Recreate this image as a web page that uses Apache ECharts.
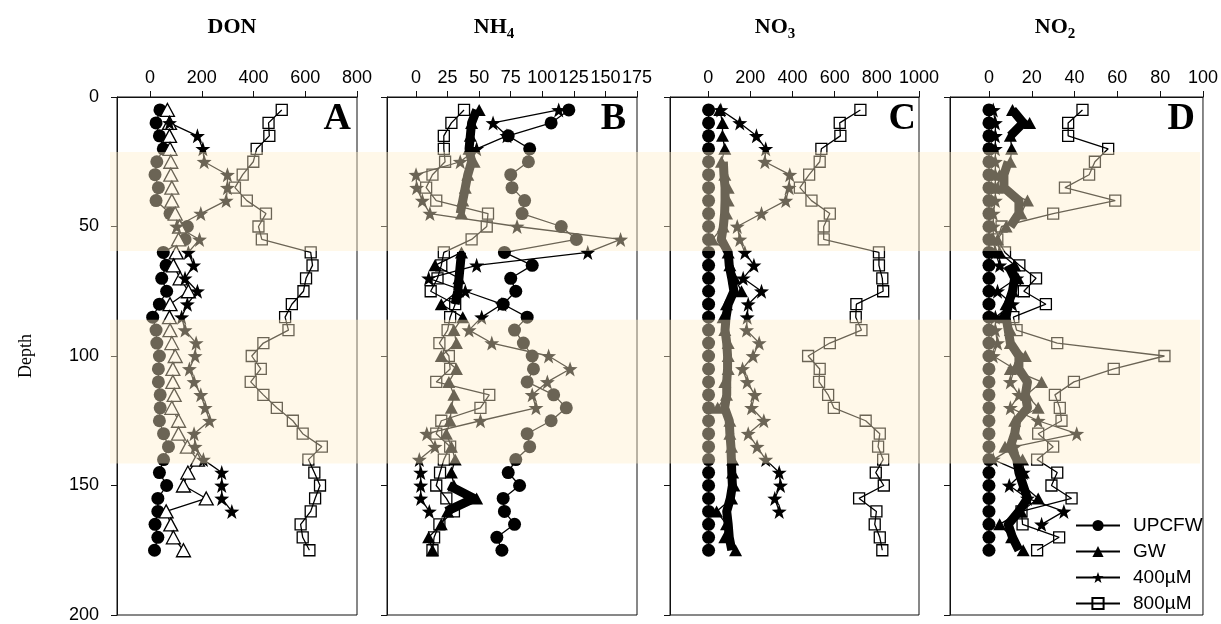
<!DOCTYPE html>
<html><head><meta charset="utf-8">
<script src="https://cdn.jsdelivr.net/npm/echarts@6/dist/echarts.min.js"></script>
<style>html,body{margin:0;padding:0;background:#fff}#c{width:1221px;height:624px}</style>
</head><body><div id="c"></div>
<script>
const depth = [5,10,15,20,25,30,35,40,45,50,55,60,65,70,75,80,85,90,95,100,105,110,115,120,125,130,135,140,145,150,155,160,165,170,175];

const donUPCFW = [38,23,36,51,26,19,32,23,77,144,135,51,62,45,64,36,10,23,26,36,32,32,39,39,36,52,71,52,36,64,30,30,19,30,17];
const donGW = [67,75,75,77,80,80,84,84,97,114,110,101,90,116,148,77,75,77,84,97,88,88,93,84,110,110,144,183,146,129,217,62,80,90,129];
const donGWFill = [];
const don400 = [null,75,183,204,209,299,299,294,196,103,191,148,168,135,183,144,122,135,178,174,152,170,196,213,230,170,174,206,277,277,277,316,null,null,null];
const don800 = [509,458,461,412,399,358,328,374,448,419,432,621,628,603,593,548,522,535,438,393,428,389,438,490,552,590,664,612,635,657,638,621,582,590,616];

const nh4UPCFW = [121,107,73,90,89,75,76,86,84,115,127,70,92,75,79,69,88,78,85,92,93,88,109,119,107,88,90,79,73,82,69,70,78,64,68];
const nh4GW = [50,44,43,42,46,41,39,37,36,null,null,36,15,34,33,20,37,30,32,20,32,26,30,28,27,24,28,31,28,30,48,25,20,10,13];
const nh4GWFill = [48,44,43,42,44,41,39,37,35,null,null,36,35,34,33,31,null,null,null,null,null,null,null,null,null,null,null,null,null,26,46,24,null,null,null];
const nh4400 = [113,61,72,48,35,0,0.5,5,11,80,162,136,48,10,39,68,52,42,60,105,122,104,92,95,51,8.5,15,2.6,3.7,3.7,3.7,10.5,null,null,null];
const nh4800 = [38,28,22,22,23,13,8,16,57,56,44,22,20,17,11.6,31,27,25,18.5,26,27,16,58,51,20,16,27,22,19,16,24,30,18.5,14.3,13];

const no3UPCFW = [2,2,2,2,2,2,2,2,2,2,2,2,2,2,2,2,2,2,2,2,2,2,2,2,2,2,2,2,2,2,2,2,2,2,2];
const no3GW = [55,68,68,79,63,79,95,95,87,71,20,95,103,126,158,87,71,79,95,95,95,79,87,45,103,103,111,116,116,122,111,40,87,79,130];
const no3GWFill = [null,null,null,null,72,75,80,80,78,72,62,95,100,112,122,95,85,80,88,92,92,88,88,78,100,103,108,110,112,115,105,88,95,100,112];
const no3400 = [60,150,229,273,269,387,384,368,253,138,150,174,217,166,253,190,185,182,242,213,163,185,221,206,264,190,232,273,337,343,316,337,null,null,null];
const no3800 = [722,624,627,537,529,479,435,490,577,548,548,810,810,826,830,703,700,727,577,474,529,526,569,596,747,814,806,830,795,833,716,798,790,814,826];

const no2UPCFW = [0,0,0,0,0,0,0,0,0,0,0,0,0,0,0,0,0,0,0,0,0,0,0,0,0,0,0,0,0,0,0,0,0,0,0];
const no2GW = [11,19,10,10.6,10,5,4,18,15,8,4,5,12,13.5,11,8,6,10,10,17,10,24.6,17.6,23,12,12.6,7.5,15.7,16,16,23,15,5,10.6,16];
const no2GWFill = [11,16,10,null,9,7,7,14,14,10,null,null,9,12,11,9,8,9,10,14,14,18,17,18,13,12,10,13,14,16,18,14,9,11,14];
const no2400 = [2,3,3,3,3,3,3,3,2,2,2,3,5,13,4,11,3,3,4,2,12,10,14,10,23,41,12,2,16,9.5,18,35,24.6,null,null];
const no2800 = [43.7,37,37,55.7,49.5,46.8,35.5,59,30,5.9,3.9,7.5,14.2,22,16.3,26.6,11.4,12.9,31.9,82,58.3,39.7,30.8,33.1,33.9,23,30,22.5,31.9,29.2,38.6,15.2,15.7,32.8,22.5];

const ticksDON = [0,200,400,600,800];
const ticksNH4 = [0,25,50,75,100,125,150,175];
const ticksNO3 = [0,200,400,600,800,1000];
const ticksNO2 = [0,20,40,60,80,100];
const depthTicks = [0,50,100,150,200];
const bandTop = [21.2, 86];
const bandBottom = [59.5, 141.5];
const seriesNames = ['UPCFW','GW','400µM','800µM'];

const panels = [
  {letter:'A', left:117, width:240, min:-128, max:800, ticks:ticksDON, up:donUPCFW, gw:donGW, gwFill:donGWFill, s4:don400, s8:don800, hollowTri:true},
  {letter:'B', left:387, width:250, min:-23, max:175, ticks:ticksNH4, up:nh4UPCFW, gw:nh4GW, gwFill:nh4GWFill, s4:nh4400, s8:nh4800, hollowTri:false},
  {letter:'C', left:670, width:249, min:-181, max:1000, ticks:ticksNO3, up:no3UPCFW, gw:no3GW, gwFill:no3GWFill, s4:no3400, s8:no3800, hollowTri:false},
  {letter:'D', left:950, width:253, min:-18.2, max:100, ticks:ticksNO2, up:no2UPCFW, gw:no2GW, gwFill:no2GWFill, s4:no2400, s8:no2800, hollowTri:false}
];

const TOP = 97, H = 518;
const STAR = 'path://M0,-10 L2.35,-3.24 L9.51,-3.09 L3.8,1.24 L5.88,8.09 L0,4 L-5.88,8.09 L-3.8,1.24 L-9.51,-3.09 L-2.35,-3.24 Z';
const FONT = 'Liberation Sans';

function pairs(vals){ return vals.map((v,i)=>[v==null?'-':v, depth[i]]); }

const grid = [], xAxis = [], yAxis = [];
panels.forEach((p, gi) => {
  grid.push({left:p.left, top:TOP, width:p.width, height:H, show:true, borderColor:'#111', borderWidth:1, backgroundColor:'transparent'});
  xAxis.push({type:'value', gridIndex:gi, position:'top', min:p.min, max:p.max,
    axisLine:{show:true, onZero:false, lineStyle:{color:'#111', width:1}},
    axisTick:{show:true, inside:false, length:6, customValues:p.ticks, lineStyle:{color:'#111'}},
    axisLabel:{show:true, customValues:p.ticks, margin:10, fontSize:18, color:'#000', fontFamily:FONT, formatter:(v)=>String(v)},
    splitLine:{show:false}});
  yAxis.push({type:'value', gridIndex:gi, inverse:true, min:0, max:200, interval:50,
    axisLine:{show:true, onZero:false, lineStyle:{color:'#111', width:1}},
    axisTick:{show:true, inside:false, length:6, lineStyle:{color:'#111'}},
    axisLabel:{show:gi===0, margin:18, fontSize:18, color:'#000', fontFamily:FONT},
    splitLine:{show:false}});
});
// overlay grid for shaded depth bands
grid.push({left:110, top:TOP, width:1090, height:H, show:false});
xAxis.push({type:'value', gridIndex:4, min:0, max:1, show:false});
yAxis.push({type:'value', gridIndex:4, min:0, max:200, inverse:true, show:false});

function mk(p, gi, kind){
  const base = {type:'line', xAxisIndex:gi, yAxisIndex:gi, showAllSymbol:true, connectNulls:false, z:2, animation:false,
    lineStyle:{color:'#000', width:1.3}};
  if (kind==='up') return Object.assign(base, {name:'UPCFW', data:pairs(p.up), symbol:'circle', symbolSize:13,
    itemStyle:{color:'#000'}});
  if (kind==='gw') return Object.assign(base, {name:'GW', data:pairs(p.gw), symbol:'triangle', symbolSize: p.hollowTri ? [14,13] : [13,12],
    itemStyle: p.hollowTri ? {color:'#fff', borderColor:'#000', borderWidth:1.3} : {color:'#000'}});
  if (kind==='fill') return Object.assign(base, {name:'GW fill', data:pairs(p.gwFill), symbol:'none', showSymbol:false,
    lineStyle:{color:'#000', width:9, cap:'butt', join:'round'}});
  if (kind==='s4') return Object.assign(base, {name:'400µM', data:pairs(p.s4), symbol:STAR, symbolSize:15,
    itemStyle:{color:'#000'}});
  if (kind==='s8') return Object.assign(base, {name:'800µM', data:pairs(p.s8), symbol:'rect', symbolSize:11,
    itemStyle:{color:'none', borderColor:'#000', borderWidth:1.3}});
}

const series = [];
// panel D first so the legend takes its styles
[3,0,1,2].forEach(gi => {
  const p = panels[gi];
  series.push(mk(p, gi, 'up'));
  series.push(mk(p, gi, 'gw'));
  if (p.gwFill.length) series.push(mk(p, gi, 'fill'));
  series.push(mk(p, gi, 's4'));
  series.push(mk(p, gi, 's8'));
});
series.push({type:'custom', xAxisIndex:4, yAxisIndex:4, z:10, silent:true, animation:false,
  data: bandTop.map((t,i)=>[t, bandBottom[i]]),
  renderItem:(params, api)=>{
    const p0 = api.coord([0, api.value(0)]);
    const p1 = api.coord([1, api.value(1)]);
    return {type:'rect', shape:{x:p0[0], y:p0[1], width:p1[0]-p0[0], height:p1[1]-p0[1]},
      style:{fill:'rgba(255,238,202,0.42)'}};
  }});

const serif = '"Liberation Serif","Times New Roman",serif';
const titleDefs = [
  {x:232, main:'DON', sub:''},
  {x:494, main:'NH', sub:'4'},
  {x:775, main:'NO', sub:'3'},
  {x:1055, main:'NO', sub:'2'}
];
const graphic = [];
titleDefs.forEach(t => {
  graphic.push({type:'text', x:t.x, y:27, style:{
    text: t.sub ? '{m|'+t.main+'}{s|'+t.sub+'}' : '{m|'+t.main+'}',
    align:'center', verticalAlign:'middle',
    rich:{m:{fontFamily:serif, fontWeight:'bold', fontSize:22, fill:'#000', lineHeight:30},
          s:{fontFamily:serif, fontWeight:'bold', fontSize:15, fill:'#000', lineHeight:30, padding:[14,0,0,0]}}
  }});
});
panels.forEach((p) => {
  const inset = {A:6, B:11, C:3, D:8}[p.letter];
  graphic.push({type:'text', x:p.left+p.width-inset, y:100, style:{text:p.letter, align:'right', verticalAlign:'top',
    font:'bold 38px '+serif, fill:'#000'}});
});
graphic.push({type:'text', x:26, y:356, rotation:Math.PI/2, style:{text:'Depth', align:'center', verticalAlign:'middle',
  font:'18px '+serif, fill:'#000'}});

const chart = echarts.init(document.getElementById('c'));
chart.setOption({
  animation:false,
  backgroundColor:'#fff',
  grid, xAxis, yAxis, series, graphic,
  legend:{data:seriesNames, orient:'vertical', left:1075, top:516, padding:0, itemWidth:44, itemHeight:14, itemGap:7,
    textStyle:{fontSize:19, color:'#000', fontFamily:FONT, padding:[0,0,0,8]}, selectedMode:false}
});
</script></body></html>
